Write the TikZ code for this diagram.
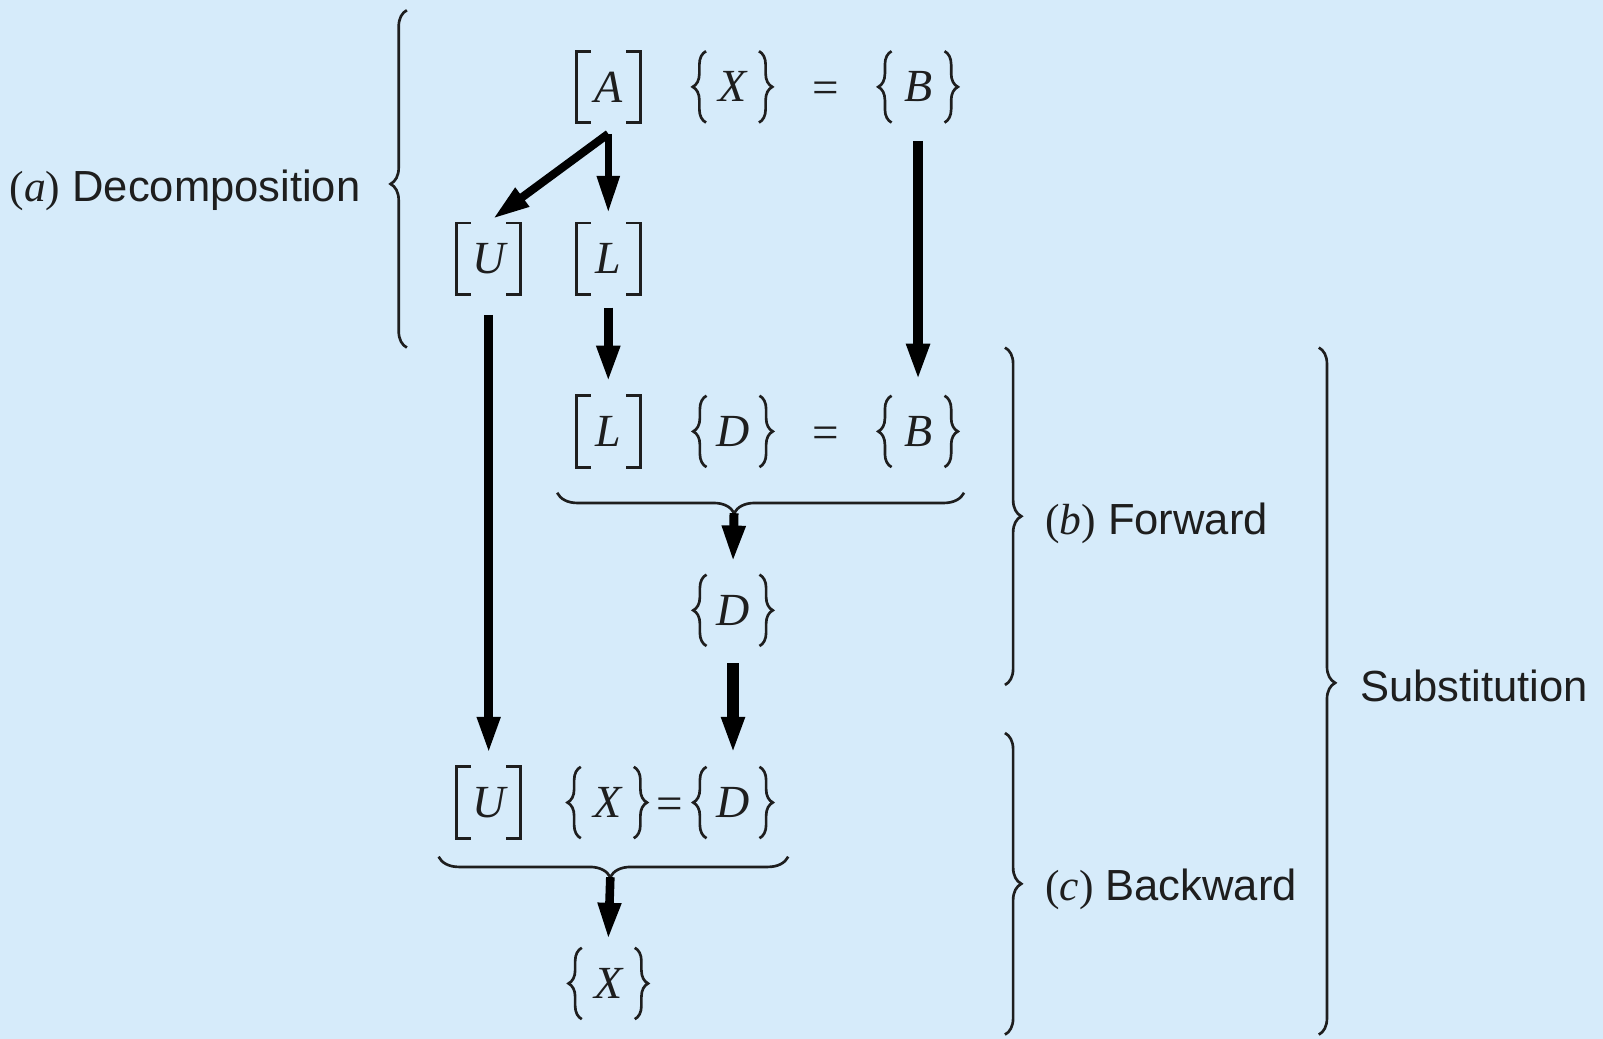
\documentclass[tikz,border=0pt]{standalone}
\usepackage{fontspec}
\setmainfont{Liberation Serif}
\newfontfamily\labelsans{Liberation Sans}
\usetikzlibrary{arrows.meta,decorations.pathreplacing,calc}
\definecolor{paper}{RGB}{214,235,250}
\definecolor{ink}{RGB}{30,30,30}

\tikzset{
  sym/.style={font=\fontsize{22.5}{26}\selectfont\itshape, text=ink, inner sep=0pt},
  mat/.style={sym, minimum width=31pt, minimum height=34.5pt},
  vec/.style={sym, minimum width=25.5pt, minimum height=34.5pt},
  eqsign/.style={font=\fontsize{23}{26}\selectfont, text=ink, inner sep=0pt, yshift=-3pt},
  lbl/.style={font=\fontsize{21.3}{25}\selectfont\labelsans, text=ink, inner sep=0pt},
  brk/.style={draw=ink, line width=1.4pt, line join=miter},
  curly/.style={draw=ink, line width=1.3pt, decorate, decoration={brace, amplitude=#1}},
  curly/.default=6.5pt,
  flow/.style={-{Triangle[length=18pt,width=10.5pt]}, line width=#1, draw=black},
}

% square brackets around a matrix symbol
\newcommand\squarebr[1]{%
  \draw[brk] ([xshift=7pt]#1.north west) -- (#1.north west) -- (#1.south west) -- ([xshift=7pt]#1.south west);
  \draw[brk] ([xshift=-7pt]#1.north east) -- (#1.north east) -- (#1.south east) -- ([xshift=-7pt]#1.south east);}
% curly braces around a vector symbol
\newcommand\curlybr[1]{%
  \draw[curly] (#1.south west) -- (#1.north west);
  \draw[curly] (#1.north east) -- (#1.south east);}

\begin{document}
\begin{tikzpicture}[x=0.5pt, y=-0.5pt]
  \fill[paper] (0,0) rectangle (1568,1016);
  \useasboundingbox (0,0) rectangle (1568,1016);

  % [A]{X} = {B}
  \node[mat] (A) at (595,85) {A};
  \node[vec] (X1) at (716.5,85) {X};
  \node[eqsign] (eq1) at (808,85) {=};
  \node[vec] (B1) at (898,85) {B};
  % [U] [L]
  \node[mat] (U1) at (478,253) {U};
  \node[mat] (L1) at (595,253) {L};
  % [L]{D} = {B}
  \node[mat] (L2) at (595,422) {L};
  \node[vec] (D2) at (717,422) {D};
  \node[eqsign] (eq2) at (808,422) {=};
  \node[vec] (B2) at (898,422) {B};
  % {D}
  \node[vec] (D3) at (717,597) {D};
  % [U]{X}={D}
  \node[mat] (U3) at (478,785) {U};
  \node[vec] (X3) at (594,785) {X};
  \node[eqsign] (eq3) at (655,785) {=};
  \node[vec] (D4) at (717,785) {D};
  % {X}
  \node[vec] (X5) at (595,962) {X};

  \foreach \n in {A,U1,L1,L2,U3} {\squarebr{\n}}
  \foreach \n in {X1,B1,D2,B2,D3,X3,D4,X5} {\curlybr{\n}}

  % underbraces collecting each system
  \draw[curly=10pt, decoration={aspect=0.565}] (943,482) -- (545,482);
  \coordinate (fwdtip) at (718,502);
  \draw[curly=10pt, decoration={aspect=0.509}] (771,838) -- (429,838);
  \coordinate (bwdtip) at (597,858);

  % flow arrows
  \coordinate (Afork) at ($(A.south)+(0,11)$);
  \draw[flow=4pt] (Afork) -- ($(U1.north)+(4,-4)$);
  \draw[flow=3.4pt] (Afork) -- ($(L1.north)+(0,-10)$);
  \draw[flow=4.6pt] ($(B1.south)+(0,18)$) -- ($(B2.north)+(0,-15)$);
  \draw[flow=4.5pt] ($(L1.south)+(0,13)$) -- ($(L2.north)+(0,-13)$);
  \draw[flow=4.3pt] ($(U1.south)+(0,20)$) -- ($(U3.north)+(0,-13)$);
  \draw[flow=4.4pt] (fwdtip) -- ($(D3.north)+(0,-12)$);
  \draw[flow=5.8pt] ($(D3.south)+(0,17)$) -- ($(D4.north)+(0,-13)$);
  \draw[flow=4.2pt] (bwdtip) -- ($(X5.north)+(0,-8)$);

  % step braces and labels
  \draw[curly=8pt, decoration={aspect=0.485}] (398,340) -- (398,10);
  \node[lbl, anchor=base east] (decomp) at (353,197) {{\rmfamily(\textit{a})} Decomposition};
  \draw[curly=8pt] (983,340) -- (983,670);
  \node[lbl, anchor=base west] (fwd) at (1022,523) {{\rmfamily(\textit{b})} Forward};
  \draw[curly=8pt] (983,717) -- (983,1012);
  \node[lbl, anchor=base west] (bwd) at (1022,881) {{\rmfamily(\textit{c})} Backward};
  \draw[curly=8pt, decoration={aspect=0.488}] (1290,340) -- (1290,1012);
  \node[lbl, anchor=base west] (subst) at (1330,686) {Substitution};
\end{tikzpicture}
\end{document}
